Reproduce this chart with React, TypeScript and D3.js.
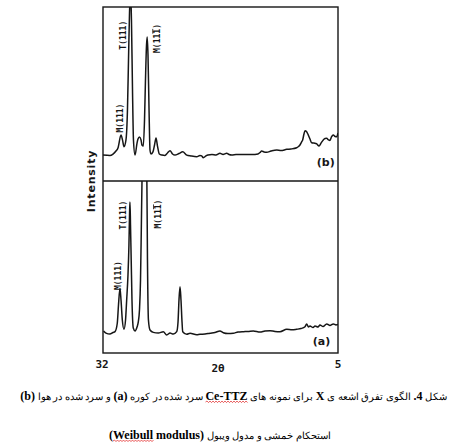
import React, { useLayoutEffect, useRef, useState } from "react";
import * as d3 from "d3";

// ---- data (2θ in degrees, intensity in arbitrary units 0-100 of panel height) ----
const topTheta = [32.0, 31.2, 30.85, 30.51, 30.28, 29.93, 29.76, 29.59, 29.36, 29.19, 29.07, 28.96, 28.84, 28.73, 28.61, 28.5, 28.32, 28.09, 27.98, 27.81, 27.63, 27.52, 27.37, 27.23, 27.12, 27.0, 26.92, 26.83, 26.71, 26.6, 26.49, 26.26, 26.08, 25.91, 25.74, 25.53, 25.22, 24.88, 24.59, 24.3, 24.01, 23.73, 23.27, 22.84, 22.38, 21.89, 21.23, 20.86, 20.66, 20.48, 20.17, 19.94, 19.48, 19.02, 18.56, 18.21, 17.79, 17.52, 17.21, 16.72, 16.14, 15.49, 14.88, 14.19, 13.96, 13.77, 13.5, 13.19, 12.7, 12.04, 11.55, 10.89, 10.4, 9.75, 9.54, 9.37, 9.19, 9.06, 8.91, 8.79, 8.62, 8.41, 8.22, 8.02, 7.75, 7.44, 7.18, 6.95, 6.69, 6.49, 6.3, 6.09, 5.92, 5.75, 5.54, 5.33, 5.14, 5.0];
const topInt = [14.9, 14.7, 15.5, 17.2, 19.0, 26.4, 23.6, 19.7, 23.6, 40.8, 69.5, 95.4, 110, 92.5, 52.3, 23.6, 14.9, 21.8, 24.1, 25.3, 23.6, 20.7, 20.1, 35.1, 58.0, 78.2, 82.8, 72.4, 40.8, 17.8, 15.5, 16.7, 20.7, 24.7, 20.1, 15.5, 14.9, 14.7, 16.1, 17.4, 15.5, 14.9, 15.8, 16.8, 14.9, 14.4, 14.0, 14.7, 14.4, 13.4, 14.4, 14.9, 15.2, 14.9, 15.9, 15.3, 15.9, 15.2, 14.9, 15.2, 15.3, 15.3, 15.2, 15.5, 16.4, 17.2, 16.7, 16.5, 17.2, 17.8, 17.5, 18.2, 18.4, 19.1, 19.8, 20.7, 22.4, 23.6, 27.0, 28.9, 28.4, 26.4, 24.1, 22.0, 21.8, 21.3, 20.1, 21.8, 23.6, 24.4, 24.5, 23.6, 23.3, 25.3, 26.4, 25.6, 25.5, 27.6];

const botTheta = [31.94, 31.66, 31.2, 30.85, 30.62, 30.36, 30.22, 30.05, 29.93, 29.78, 29.59, 29.41, 29.28, 29.13, 29.02, 28.94, 28.9, 28.84, 28.76, 28.67, 28.52, 28.32, 28.09, 27.94, 27.81, 27.69, 27.6, 27.52, 27.27, 26.96, 26.89, 26.78, 26.6, 26.22, 25.64, 25.07, 24.68, 24.3, 23.92, 23.53, 23.38, 23.27, 23.15, 23.04, 22.92, 22.84, 22.38, 22.0, 21.23, 20.86, 20.28, 19.71, 19.14, 18.56, 18.18, 17.64, 17.03, 16.49, 15.88, 15.34, 14.73, 13.96, 13.39, 12.81, 12.24, 11.66, 10.89, 10.28, 9.75, 9.25, 8.79, 8.6, 8.39, 8.22, 7.87, 7.64, 7.3, 7.07, 6.72, 6.3, 5.92, 5.54, 5.23, 5.0];
const botInt = [12.8, 11.6, 11.0, 11.9, 12.4, 17.3, 27.9, 37.6, 30.8, 19.2, 13.8, 19.2, 30.8, 45.3, 62.8, 83.1, 87.8, 74.4, 54.1, 30.8, 14.5, 12.8, 15.1, 18.2, 25.0, 42.4, 71.5, 100, 130, 100, 54, 19.2, 13.4, 12.0, 11.6, 12.4, 10.5, 11.6, 11.0, 12.4, 18.0, 30.8, 38.5, 30.8, 18.0, 12.4, 10.9, 11.5, 10.6, 10.9, 11.0, 11.5, 11.9, 12.8, 11.8, 11.3, 11.5, 12.2, 12.4, 12.5, 12.8, 12.2, 12.8, 13.0, 12.5, 12.4, 13.8, 13.5, 13.8, 14.2, 15.3, 16.9, 15.1, 15.7, 14.8, 15.7, 15.1, 16.3, 15.4, 16.9, 16.0, 16.9, 16.3, 16.6];

const xTickValues = [32, 5];
const xTickLabels = ["32", "5"];

// peak labels: panel, 2θ, intensity at label centre, text parts
const peakPanels = ["b", "b", "b", "a", "a", "a"];
const peakTheta = [30.03, 29.6, 25.75, 30.26, 29.6, 25.66];
const peakLabelInt = [36.2, 83.8, 81.9, 45.0, 80.2, 80.8];
const peakMain = ["M(111)", "T(111)", "M(11", "M(111)", "T(111)", "M(11"];
const peakBar = ["", "", "1", "", "", "1"];
const peakTail = ["", "", ")", "", "", ")"];

type Box = { x0: number; x1: number; y: number };

export default function App() {
  const W = 450, H = 444;
  const left = 103, right = 338, top = 7, mid = 181, bottom = 353;
  const x = d3.scaleLinear().domain([32, 5]).range([left, right]);
  const yTop = d3.scaleLinear().domain([0, 100]).range([mid, top]);
  const yBot = d3.scaleLinear().domain([0, 100]).range([bottom, mid]);

  const lineTop = d3
    .line<number>()
    .x((_, i) => x(topTheta[i]))
    .y((d) => yTop(d))
    .curve(d3.curveMonotoneX);
  const lineBot = d3
    .line<number>()
    .x((_, i) => x(botTheta[i]))
    .y((d) => yBot(d))
    .curve(d3.curveMonotoneX);

  const ink = "#161616";
  const mono = "'DejaVu Sans Mono', monospace";
  const serif = "'Liberation Serif', 'Times New Roman', serif";

  const ceRef = useRef<SVGTSpanElement>(null);
  const wbRef = useRef<SVGTSpanElement>(null);
  const [marks, setMarks] = useState<Box[]>([]);

  useLayoutEffect(() => {
    const out: Box[] = [];
    [ceRef.current, wbRef.current].forEach((el) => {
      if (!el) return;
      const r = el.getBoundingClientRect();
      const svg = el.ownerSVGElement!.getBoundingClientRect();
      out.push({ x0: r.left - svg.left, x1: r.right - svg.left, y: r.bottom - svg.top - 1 });
    });
    setMarks(out);
  }, []);

  const wavy = (x0: number, x1: number, y: number) => {
    let d = `M${x0.toFixed(1)},${y}`;
    let up = true;
    for (let xx = x0 + 1.5; xx <= x1; xx += 1.5) {
      d += ` L${xx.toFixed(1)},${up ? y - 1 : y + 0.6}`;
      up = !up;
    }
    return d;
  };

  return (
    <svg
      width={W}
      height={H}
      viewBox={`0 0 ${W} ${H}`}
      style={{ position: "absolute", left: 0, top: 0, background: "#fff" }}
    >
      <defs>
        <clipPath id="clipTop">
          <rect x={left} y={top} width={right - left} height={mid - top} />
        </clipPath>
        <clipPath id="clipBot">
          <rect x={left} y={mid} width={right - left} height={bottom - mid} />
        </clipPath>
      </defs>
      <rect width={W} height={H} fill="#fff" />

      {/* curves */}
      <path d={lineTop(topInt) || ""} fill="none" stroke={ink} strokeWidth={1.5} strokeLinejoin="round" clipPath="url(#clipTop)" />
      <path d={lineBot(botInt) || ""} fill="none" stroke={ink} strokeWidth={1.5} strokeLinejoin="round" clipPath="url(#clipBot)" />

      {/* frame */}
      <rect x={left} y={top} width={right - left} height={bottom - top} fill="none" stroke={ink} strokeWidth={1.4} />
      <line x1={left} x2={right} y1={mid} y2={mid} stroke={ink} strokeWidth={1.4} />

      {/* peak labels */}
      {peakMain.map((m, i) => {
        const px = x(peakTheta[i]);
        const py = peakPanels[i] === "b" ? yTop(peakLabelInt[i]) : yBot(peakLabelInt[i]);
        return (
          <text
            key={i}
            transform={`translate(${px},${py}) rotate(-90)`}
            textAnchor="middle"
            dominantBaseline="central"
            fontFamily={mono}
            fontWeight="bold"
            fontSize={8}
            fill={ink}
          >
            {m}
            {peakBar[i] && <tspan textDecoration="overline">{peakBar[i]}</tspan>}
            {peakTail[i]}
          </text>
        );
      })}

      {/* panel tags */}
      <text x={x(6.4)} y={yTop(10.4)} textAnchor="middle" dominantBaseline="central" fontFamily="'DejaVu Sans', sans-serif" fontWeight="bold" fontSize={11} fill={ink}>(b)</text>
      <text x={x(6.9)} y={yBot(6.5)} textAnchor="middle" dominantBaseline="central" fontFamily="'DejaVu Sans', sans-serif" fontWeight="bold" fontSize={11} fill={ink}>(a)</text>

      {/* y label */}
      <text transform={`translate(91,181) rotate(-90)`} textAnchor="middle" dominantBaseline="central" fontFamily="'DejaVu Sans', sans-serif" fontWeight="bold" fontSize={11} letterSpacing={0.8} fill={ink}>Intensity</text>

      {/* x ticks */}
      {xTickValues.map((v, i) => (
        <text key={v} x={x(v) - (i === 0 ? 1 : 0)} y={364} textAnchor="middle" dominantBaseline="central" fontFamily={mono} fontWeight="bold" fontSize={11} fill={ink}>
          {xTickLabels[i]}
        </text>
      ))}
      <text x={218} y={368} textAnchor="middle" dominantBaseline="central" fontFamily={mono} fontWeight="bold" fontSize={11} fill={ink}>2θ</text>

      {/* caption */}
      <text x={447} y={400} direction="rtl" textAnchor="start" fontFamily={serif} fontSize={10.35} fill="#000">
        شکل <tspan fontWeight="bold" fontSize={12}>4.</tspan> الگوی تفرق اشعه ی <tspan fontWeight="bold" fontSize={12}>X</tspan> برای نمونه های <tspan ref={ceRef} fontWeight="bold" fontSize={12}>Ce-TTZ</tspan> سرد شده در کوره <tspan fontWeight="bold" fontSize={12}>(a)</tspan> و سرد شده در هوا <tspan fontWeight="bold" fontSize={12}>(b)</tspan>
      </text>
      <text x={220} y={439} direction="rtl" textAnchor="middle" fontFamily={serif} fontSize={10.35} fill="#000">
        استحکام خمشی و مدول ویبول <tspan fontWeight="bold" fontSize={12}>(</tspan><tspan ref={wbRef} fontWeight="bold" fontSize={12}>Weibull</tspan><tspan fontWeight="bold" fontSize={12}> modulus)</tspan>
      </text>
      {marks.map((m, i) => (
        <path key={i} d={wavy(m.x0, m.x1, m.y)} fill="none" stroke="#e02020" strokeWidth={0.7} />
      ))}
    </svg>
  );
}
